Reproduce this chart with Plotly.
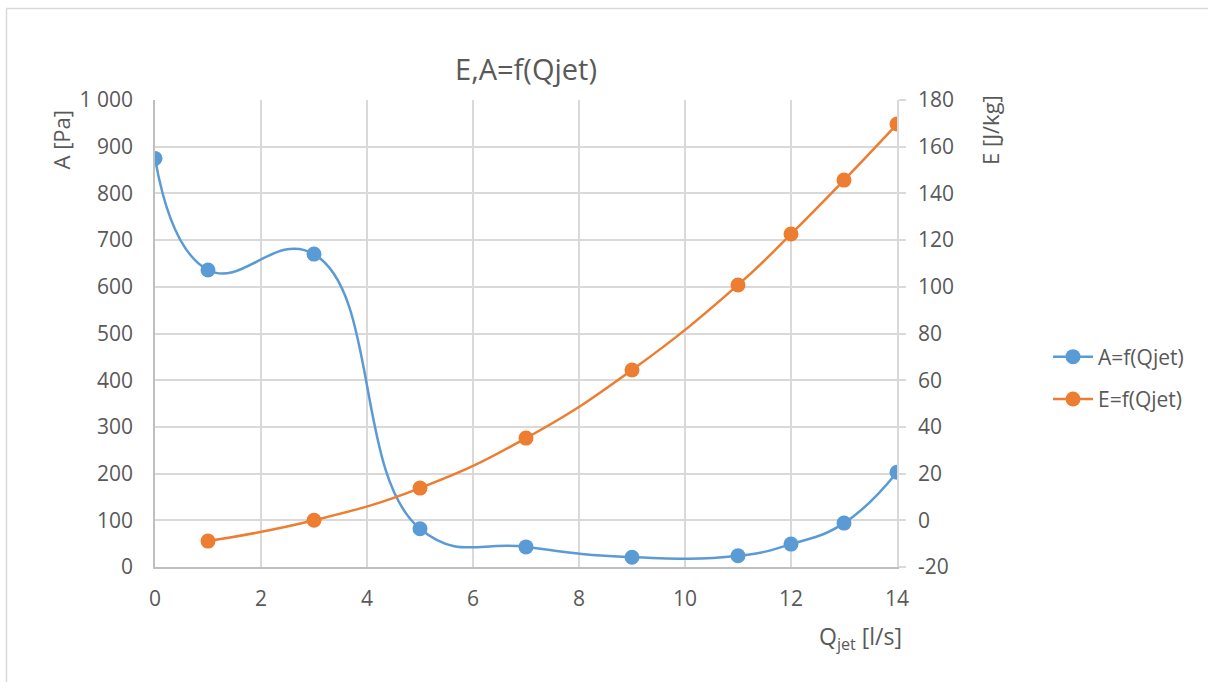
import plotly.graph_objects as go

q_a = [0, 1, 3, 5, 7, 9, 11, 12, 13, 14]
a_vals = [875, 636, 670, 82, 43, 21, 24, 49, 94, 203]
q_e = [1, 3, 5, 7, 9, 11, 12, 13, 14]
e_vals = [-8.9, 0, 13.8, 35.2, 64.4, 100.8, 122.6, 145.7, 169.7]
x_ticks = [0, 2, 4, 6, 8, 10, 12, 14]
a_ticks = [0, 100, 200, 300, 400, 500, 600, 700, 800, 900, 1000]
a_labels = ["0", "100", "200", "300", "400", "500", "600", "700", "800", "900", "1 000"]
e_ticks = [-20, 0, 20, 40, 60, 80, 100, 120, 140, 160, 180]
e_labels = ["-20", "0", "20", "40", "60", "80", "100", "120", "140", "160", "180"]

BLUE = "#5B9BD5"
ORANGE = "#ED7D31"
TXT = "#595959"
GRID = "#d9d9d9"
FONT = "Open Sans"

fig = go.Figure()
fig.add_trace(go.Scatter(x=q_a, y=a_vals, name="A=f(Qjet)", mode="lines+markers",
                         legendgroup="a",
                         line=dict(color=BLUE, width=2.5, shape="spline", smoothing=1.3),
                         marker=dict(color=BLUE, size=15), yaxis="y"))
fig.add_trace(go.Scatter(x=q_e, y=e_vals, name="E=f(Qjet)", mode="lines+markers",
                         legendgroup="e",
                         line=dict(color=ORANGE, width=2.5, shape="spline", smoothing=1.3),
                         marker=dict(color=ORANGE, size=15), yaxis="y2"))

L, R, T, B = 155, 897, 100, 567
W, H = 1208, 682
pw, ph = R - L, B - T

def px(x):
    return (x - L) / pw

def py(y):
    return (B - y) / ph

fig.update_layout(
    width=W, height=H,
    margin=dict(l=L, r=W - R, t=T, b=H - B, autoexpand=False),
    paper_bgcolor="white", plot_bgcolor="white",
    font=dict(family=FONT, color=TXT, size=21),
    title=dict(text="E,A=f(Qjet)", xref="container", x=526 / W, xanchor="center",
               yref="container", y=1 - 70 / H, yanchor="middle",
               font=dict(size=29, color=TXT, family=FONT)),
    xaxis=dict(range=[0, 14], tickvals=x_ticks,
               showgrid=True, gridcolor=GRID, gridwidth=1.5,
               showline=True, linecolor="#bfbfbf", linewidth=1.5,
               zeroline=False, ticks="", ticklen=0, ticklabelstandoff=12,
               tickfont=dict(size=21, color=TXT)),
    yaxis=dict(range=[0, 1000], tickvals=a_ticks, ticktext=a_labels,
               showgrid=True, gridcolor=GRID, gridwidth=1.5,
               showline=True, linecolor="#bfbfbf", linewidth=1.5,
               zeroline=False, ticks="", ticklabelstandoff=16,
               tickfont=dict(size=21, color=TXT)),
    yaxis2=dict(range=[-20, 180], tickvals=e_ticks, ticktext=e_labels,
                overlaying="y", side="right", showgrid=False,
                showline=True, linecolor="#d9d9d9", linewidth=1.5,
                zeroline=False, ticks="outside", ticklen=7, tickcolor="#d9d9d9",
                tickwidth=1.5, ticklabelstandoff=8,
                tickfont=dict(size=21, color=TXT)),
    legend=dict(x=px(1048), xanchor="left", y=py(378), yanchor="middle",
                font=dict(size=21, color=TXT), bgcolor="rgba(0,0,0,0)",
                traceorder="grouped", tracegroupgap=12, itemwidth=40),
    showlegend=True,
)

fig.add_annotation(text="A [Pa]", xref="paper", yref="paper", x=px(60), y=py(108),
                   xanchor="center", yanchor="top", textangle=-90, showarrow=False,
                   font=dict(size=22, color=TXT))
fig.add_annotation(text="E [J/kg]", xref="paper", yref="paper", x=px(990), y=py(93),
                   xanchor="center", yanchor="top", textangle=-90, showarrow=False,
                   font=dict(size=22, color=TXT))
fig.add_annotation(text="Q<sub>jet</sub> [l/s]", xref="paper", yref="paper", x=px(904),
                   y=py(637), xanchor="right", yanchor="middle", showarrow=False,
                   font=dict(size=23, color=TXT))

# outer chart border (left and top edges visible)
fig.add_shape(type="line", xref="paper", yref="paper", x0=px(6.5), x1=px(1210),
              y0=py(8.5), y1=py(8.5), line=dict(color="#d9d9d9", width=1.5))
fig.add_shape(type="line", xref="paper", yref="paper", x0=px(6.5), x1=px(6.5),
              y0=py(8.5), y1=py(690), line=dict(color="#d9d9d9", width=1.5))

fig.write_html("out.html", config={"displayModeBar": False},
               post_script="document.body.style.margin='0';document.body.style.overflow='hidden';")
